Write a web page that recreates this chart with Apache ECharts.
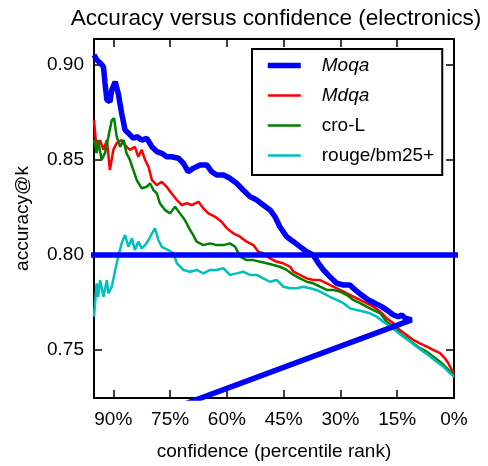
<!DOCTYPE html>
<html>
<head>
<meta charset="utf-8">
<script src="https://cdn.jsdelivr.net/npm/echarts@6/dist/echarts.min.js"></script>
<style>
  html, body { margin: 0; padding: 0; background: #fff; }
  #chart { width: 488px; height: 466px; }
</style>
</head>
<body>
<div id="chart"></div>
<script>
// percentile rank (x) and accuracy@k (y)
const moqa = [
  [95.1, 0.9053], [94.3, 0.9026], [93.5, 0.9011], [92.6, 0.8991], [92.2, 0.8905], [91.7, 0.8816],
  [90.9, 0.8807], [90.4, 0.8868], [89.5, 0.8912], [88.7, 0.8851], [87.8, 0.8746], [86.9, 0.8658],
  [86.0, 0.8641], [84.7, 0.8614], [83.8, 0.8623], [82.5, 0.8605], [81.2, 0.8614], [79.8, 0.8570],
  [78.5, 0.8544], [77.2, 0.8535], [75.9, 0.8517], [74.6, 0.8517], [72.8, 0.8509], [71.5, 0.8483],
  [70.2, 0.8438], [68.9, 0.8456], [67.1, 0.8474], [65.3, 0.8474], [64.0, 0.8438], [62.7, 0.8421],
  [60.9, 0.8421], [59.2, 0.8404], [57.4, 0.8377], [55.7, 0.8342], [53.9, 0.8307], [52.1, 0.8289],
  [50.4, 0.8263], [48.6, 0.8237], [47.3, 0.8202], [46.0, 0.8149], [44.2, 0.8096], [42.4, 0.8070],
  [40.7, 0.8044], [38.9, 0.8017], [37.2, 0.8000], [35.8, 0.7956], [34.5, 0.7921], [32.8, 0.7886],
  [31.0, 0.7851], [29.2, 0.7842], [27.5, 0.7842], [26.1, 0.7816], [24.4, 0.7789], [22.6, 0.7763],
  [20.9, 0.7746], [19.1, 0.7728], [17.8, 0.7711], [16.0, 0.7684], [14.7, 0.7675], [13.8, 0.7684],
  [12.9, 0.7667], [11.2, 0.7658],
  // the stray wrap-around segments of the blue curve
  [100, 0.7002], [100, 0.80], [-5, 0.80]
];
const mdqa = [
  [95.1, 0.8711], [94.4, 0.8553], [93.5, 0.8605], [92.6, 0.8553], [91.7, 0.8605], [90.9, 0.8447],
  [90.0, 0.8553], [89.1, 0.8589], [87.8, 0.8605], [86.5, 0.8569], [85.6, 0.8553], [84.3, 0.8569],
  [83.4, 0.8517], [82.5, 0.8553], [81.6, 0.8500], [80.7, 0.8464], [79.8, 0.8394], [78.5, 0.8368],
  [77.2, 0.8385], [75.9, 0.8359], [74.6, 0.8324], [73.2, 0.8289], [71.9, 0.8263], [70.6, 0.8272],
  [69.3, 0.8263], [67.5, 0.8280], [66.2, 0.8245], [64.9, 0.8219], [63.1, 0.8201], [61.4, 0.8175],
  [60.0, 0.8140], [58.3, 0.8114], [56.5, 0.8096], [54.8, 0.8070], [53.0, 0.8052], [51.7, 0.8017],
  [50.4, 0.8009], [48.6, 0.7982], [46.8, 0.7964], [45.1, 0.7956], [43.3, 0.7938], [42.4, 0.7912],
  [40.7, 0.7895], [38.9, 0.7877], [37.2, 0.7868], [35.4, 0.7868], [33.6, 0.7851], [31.9, 0.7833],
  [30.1, 0.7816], [28.3, 0.7798], [26.6, 0.7781], [24.8, 0.7763], [23.1, 0.7746], [21.3, 0.7728],
  [19.5, 0.7702], [17.8, 0.7667], [16.0, 0.7640], [14.3, 0.7605], [12.5, 0.7579], [10.8, 0.7553],
  [9.0, 0.7535], [7.2, 0.7517], [5.5, 0.7500], [3.7, 0.7483], [2.4, 0.7456], [1.5, 0.7430],
  [0.6, 0.7395], [0, 0.7374]
];
const croL = [
  [95.1, 0.8605], [94.4, 0.8536], [94.0, 0.8605], [93.1, 0.8500], [92.2, 0.8536], [91.3, 0.8622],
  [90.4, 0.8710], [89.8, 0.8720], [89.1, 0.8622], [88.2, 0.8569], [87.3, 0.8605], [86.5, 0.8535],
  [85.6, 0.8500], [84.7, 0.8447], [83.8, 0.8394], [82.5, 0.8351], [81.2, 0.8359], [80.3, 0.8377],
  [79.4, 0.8342], [78.5, 0.8324], [77.7, 0.8272], [76.3, 0.8236], [75.0, 0.8219], [73.7, 0.8254],
  [72.4, 0.8219], [71.1, 0.8184], [69.7, 0.8131], [68.9, 0.8105], [68.0, 0.8070], [66.2, 0.8052],
  [64.4, 0.8061], [62.7, 0.8052], [60.9, 0.8052], [59.2, 0.8061], [57.8, 0.8043], [56.5, 0.7991],
  [54.8, 0.7973], [53.0, 0.7973], [51.2, 0.7964], [49.5, 0.7956], [47.7, 0.7947], [46.0, 0.7938],
  [44.2, 0.7921], [42.4, 0.7895], [40.7, 0.7877], [38.9, 0.7859], [37.2, 0.7851], [35.4, 0.7833],
  [33.6, 0.7816], [31.9, 0.7816], [30.1, 0.7807], [28.3, 0.7789], [26.6, 0.7763], [24.8, 0.7746],
  [23.1, 0.7728], [21.3, 0.7710], [19.5, 0.7693], [17.8, 0.7649], [16.0, 0.7623], [14.3, 0.7588],
  [12.5, 0.7562], [10.8, 0.7535], [9.0, 0.7509], [7.2, 0.7491], [5.5, 0.7465], [3.7, 0.7438],
  [1.9, 0.7404], [0.6, 0.7377], [0, 0.7368]
];
const rouge = [
  [95.1, 0.7675], [94.4, 0.7851], [94.0, 0.7780], [93.5, 0.7868], [92.6, 0.7780], [91.7, 0.7868],
  [91.3, 0.7798], [90.4, 0.7833], [89.5, 0.7921], [88.7, 0.7991], [87.8, 0.8061], [86.9, 0.8105],
  [86.0, 0.8043], [85.1, 0.8088], [84.3, 0.8026], [83.4, 0.8070], [82.5, 0.8035], [81.6, 0.8052],
  [80.7, 0.8079], [79.8, 0.8114], [79.0, 0.8140], [78.1, 0.8079], [77.2, 0.8043], [75.5, 0.8026],
  [74.1, 0.8009], [73.2, 0.7956], [71.5, 0.7921], [69.7, 0.7912], [68.0, 0.7921], [66.2, 0.7903],
  [64.4, 0.7921], [62.7, 0.7921], [60.9, 0.7930], [59.2, 0.7895], [57.4, 0.7903], [55.7, 0.7912],
  [53.9, 0.7895], [52.1, 0.7895], [50.4, 0.7877], [48.6, 0.7859], [46.8, 0.7868], [45.1, 0.7833],
  [43.3, 0.7825], [41.5, 0.7825], [39.8, 0.7833], [38.0, 0.7825], [36.3, 0.7816], [34.5, 0.7798],
  [32.8, 0.7780], [31.0, 0.7763], [29.2, 0.7746], [27.5, 0.7719], [25.7, 0.7710], [24.0, 0.7702],
  [22.2, 0.7693], [20.4, 0.7675], [18.7, 0.7649], [16.9, 0.7623], [15.1, 0.7596], [13.4, 0.7570],
  [11.6, 0.7544], [9.9, 0.7517], [8.1, 0.7491], [6.3, 0.7465], [4.6, 0.7438], [2.8, 0.7412],
  [1.5, 0.7386], [0, 0.7358]
];

const xTicks = [0, 15, 30, 45, 60, 75, 90];
const yTicks = [0.75, 0.80, 0.85, 0.90];
const legendNames = ['Moqa', 'Mdqa', 'cro-L', 'rouge/bm25+'];

const font = 'Liberation Sans, Arial, sans-serif';
const chart = echarts.init(document.getElementById('chart'));

const frame = { show: true, onZero: false, lineStyle: { color: '#000', width: 2 } };
const tick = (vals) => ({ show: true, inside: true, length: 8, customValues: vals, lineStyle: { color: '#000', width: 1.5 } });

const xBase = { type: 'value', min: 0, max: 95.1, inverse: true, splitLine: { show: false }, axisLine: frame };
const yBase = { type: 'value', min: 0.7247, max: 0.9137, splitLine: { show: false }, axisLine: frame };

const option = {
  animation: false,
  backgroundColor: '#fff',
  textStyle: { fontFamily: font },
  title: {
    text: 'Accuracy versus confidence (electronics)',
    left: 271, top: 2, textAlign: 'center',
    textStyle: { fontFamily: font, fontSize: 22.6, fontWeight: 'normal', color: '#000' }
  },
  grid: { left: 94, right: 34, top: 39, bottom: 68 },
  xAxis: [
    Object.assign({}, xBase, {
      position: 'bottom',
      name: 'confidence (percentile rank)', nameLocation: 'middle', nameGap: 44,
      nameTextStyle: { fontFamily: font, fontSize: 19, color: '#000' },
      axisTick: tick(xTicks),
      axisLabel: { customValues: xTicks, formatter: v => v + '%', margin: 12, fontFamily: font, fontSize: 19, color: '#000' }
    }),
    Object.assign({}, xBase, { position: 'top', axisTick: tick(xTicks), axisLabel: { show: false } })
  ],
  yAxis: [
    Object.assign({}, yBase, {
      position: 'left',
      name: 'accuracy@k', nameLocation: 'middle', nameGap: 62, nameRotate: 90,
      nameTextStyle: { fontFamily: font, fontSize: 19, color: '#000' },
      axisTick: tick(yTicks),
      axisLabel: { customValues: yTicks, formatter: v => v.toFixed(2), margin: 10, fontFamily: font, fontSize: 19, color: '#000' }
    }),
    Object.assign({}, yBase, { position: 'right', axisTick: tick(yTicks), axisLabel: { show: false } })
  ],
  legend: {
    data: legendNames.map(n => n === 'Moqa' ? { name: n, lineStyle: { width: 5.5 } } : { name: n, lineStyle: { width: 2.5 } }),
    orient: 'vertical',
    left: 252, top: 49,
    padding: [7, 8, 10, 13],
    itemGap: 11,
    itemWidth: 33, itemHeight: 14,
    borderColor: '#000', borderWidth: 2, borderRadius: 0,
    backgroundColor: '#fff',
    itemStyle: { color: 'transparent', borderWidth: 0, opacity: 0 },
    formatter: n => n.charAt(0) === 'M' ? '{i|' + n + '}' : n,
    textStyle: {
      fontFamily: font, fontSize: 19, color: '#000', padding: [0, 0, 0, 16],
      rich: { i: { fontFamily: font, fontSize: 19, fontStyle: 'italic', color: '#000' } }
    }
  },
  series: [
    { name: 'Mdqa', type: 'line', data: mdqa, symbol: 'none', clip: true, color: '#ff0000', lineStyle: { width: 2.5 } },
    { name: 'cro-L', type: 'line', data: croL, symbol: 'none', clip: true, color: '#008000', lineStyle: { width: 2.5 } },
    { name: 'rouge/bm25+', type: 'line', data: rouge, symbol: 'none', clip: true, color: '#00bfbf', lineStyle: { width: 2.5 } },
    { name: 'Moqa', type: 'line', data: moqa, symbol: 'none', clip: true, color: '#0000ff', lineStyle: { width: 5.5 } }
  ]
};
chart.setOption(option);
</script>
</body>
</html>
